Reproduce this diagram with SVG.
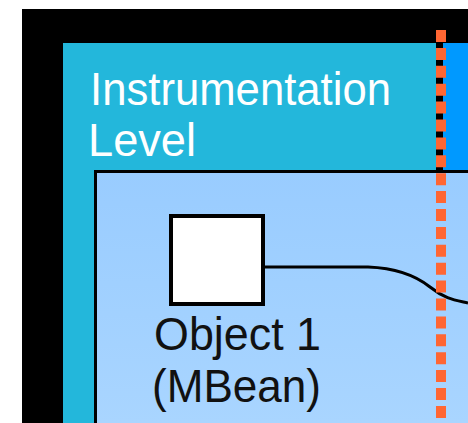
<svg xmlns="http://www.w3.org/2000/svg" width="468" height="423" viewBox="0 0 468 423">
  <defs>
    <linearGradient id="innerFill" x1="0" y1="173" x2="0" y2="423" gradientUnits="userSpaceOnUse">
      <stop offset="0" stop-color="#99CCFF"/>
      <stop offset="1" stop-color="#A9D5FF"/>
    </linearGradient>
  </defs>
  <style>
    .title { font-family: "Liberation Sans", Arial, sans-serif; font-size: 46px; fill: #FFFFFF; }
    .label { font-family: "Liberation Sans", Arial, sans-serif; font-size: 46px; fill: #111111; }
    .wire { fill: none; stroke: #000000; stroke-width: 3; }
    .boundary { fill: none; stroke: #FF6633; stroke-width: 10; stroke-dasharray: 12 5.9; }
  </style>

  <!-- page background -->
  <rect x="0" y="0" width="468" height="423" fill="#FFFFFF"/>
  <rect x="22" y="9" width="446" height="414" fill="#000000"/>

  <!-- instrumentation level band -->
  <g id="instrumentation-level">
    <rect x="63" y="43" width="373" height="380" fill="#23B7DB"/>
    <text class="title" x="90" y="105" textLength="301" lengthAdjust="spacingAndGlyphs">Instrumentation</text>
    <text class="title" x="88" y="156" textLength="108" lengthAdjust="spacingAndGlyphs">Level</text>
  </g>

  <!-- neighbouring level band -->
  <g id="agent-level">
    <rect x="443" y="43" width="25" height="380" fill="#0099FF"/>
  </g>

  <!-- resource area -->
  <g id="resource-area">
    <rect x="95.5" y="171.5" width="380" height="260" fill="url(#innerFill)" stroke="#000000" stroke-width="3"/>
  </g>

  <!-- connectors -->
  <g id="connectors">
    <path class="wire" d="M265 267 H368 C395 268 415 275 430 287 S455 300 468 303"/>
  </g>

  <!-- managed object -->
  <g id="object-1">
    <rect x="171" y="216" width="92" height="88" fill="#FFFFFF" stroke="#000000" stroke-width="4"/>
    <text class="label" x="154" y="350" textLength="167" lengthAdjust="spacingAndGlyphs">Object 1</text>
    <text class="label" x="152" y="402" textLength="169" lengthAdjust="spacingAndGlyphs">(MBean)</text>
  </g>

  <!-- level boundary -->
  <g id="level-boundary">
    <line class="boundary" x1="441" y1="30" x2="441" y2="423"/>
  </g>
</svg>
